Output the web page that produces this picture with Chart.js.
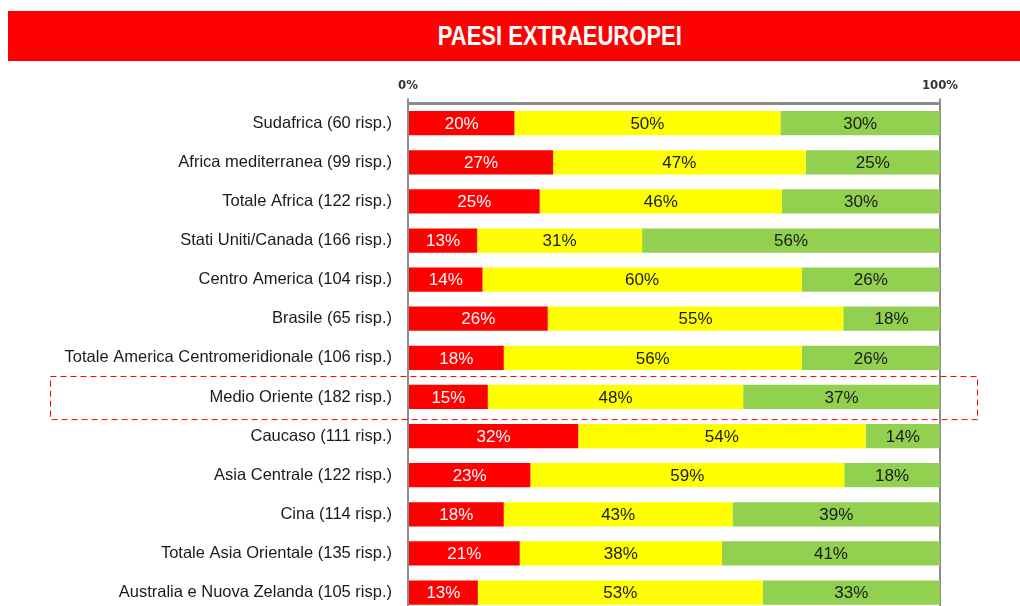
<!DOCTYPE html>
<html>
<head>
<meta charset="utf-8">
<script src="https://cdn.jsdelivr.net/npm/chart.js@4"></script>
<style>
  html, body { margin: 0; padding: 0; background: #fff; overflow: hidden; }
  #wrap { position: relative; width: 1020px; height: 606px; overflow: hidden; }
  #banner {
    position: absolute; left: 8px; top: 11px; width: 1104px; height: 50px;
    background: #ff0000; color: #fff; text-align: center;
    font: bold 27px "Liberation Sans", Arial, sans-serif;
    line-height: 50px; z-index: 2;
  }
  #banner span { display: inline-block; transform: scaleX(0.815); }
  #box { position: absolute; top: 0; left: 0; }
</style>
</head>
<body>
<div id="wrap">
  <div id="banner"><span>PAESI EXTRAEUROPEI</span></div>
  <div id="box"><canvas id="myBarChart" width="1020" height="630"></canvas></div>
</div>
<script>
// data
const labels = [
  "Sudafrica (60 risp.)",
  "Africa mediterranea (99 risp.)",
  "Totale Africa (122 risp.)",
  "Stati Uniti/Canada (166 risp.)",
  "Centro America (104 risp.)",
  "Brasile (65 risp.)",
  "Totale America Centromeridionale (106 risp.)",
  "Medio Oriente (182 risp.)",
  "Caucaso (111 risp.)",
  "Asia Centrale (122 risp.)",
  "Cina (114 risp.)",
  "Totale Asia Orientale (135 risp.)",
  "Australia e Nuova Zelanda (105 risp.)"
];
const redVals = [20, 27, 25, 13, 14, 26, 18, 15, 32, 23, 18, 21, 13];
const yellowVals = [50, 47, 46, 31, 60, 55, 56, 48, 54, 59, 43, 38, 53];
const greenVals = [30, 25, 30, 56, 26, 18, 26, 37, 14, 18, 39, 41, 33];
const axisTicks = [0, 100];
const highlighted = "Medio Oriente (182 risp.)";

// 100% stacked: every row is scaled to its own total (rounded labels don't always add to 100)
const rowTotals = labels.map((_, i) => redVals[i] + yellowVals[i] + greenVals[i]);
const share = arr => arr.map((v, i) => v / rowTotals[i] * 100);

const narrow = '"DejaVu Sans Condensed", sans-serif';

// labels inside the bars
const barLabels = {
  id: "barLabels",
  afterDatasetsDraw(chart) {
    const ctx = chart.ctx;
    ctx.save();
    ctx.font = "17px 'Liberation Sans', Arial, sans-serif";
    ctx.textAlign = "center";
    ctx.textBaseline = "middle";
    chart.data.datasets.forEach((ds, i) => {
      const meta = chart.getDatasetMeta(i);
      meta.data.forEach((bar, j) => {
        const left = Math.min(bar.x, bar.base);
        const right = Math.max(bar.x, bar.base);
        ctx.fillStyle = ds.labelColor;
        ctx.fillText(ds.raw[j] + "%", (left + right) / 2, bar.y + 1);
      });
    });
    ctx.restore();
  }
};

// dashed frame around one row
const rowFrame = {
  id: "rowFrame",
  afterDraw(chart) {
    const y = chart.scales.y;
    const idx = labels.indexOf(highlighted);
    const c = y.getPixelForValue(idx);
    const half = (y.getPixelForValue(1) - y.getPixelForValue(0)) / 2 + 2;
    const ctx = chart.ctx;
    ctx.save();
    ctx.strokeStyle = "#ff0000";
    ctx.lineWidth = 1;
    ctx.setLineDash([6, 4]);
    ctx.strokeRect(50.5, Math.round(c - half + 1) + 0.5, chart.chartArea.right + 37 - 50, half * 2);
    ctx.restore();
  }
};

const data = {
  labels: labels,
  datasets: [
    { label: "red", data: share(redVals), raw: redVals, backgroundColor: "#ff0000", labelColor: "#ffffff" },
    { label: "yellow", data: share(yellowVals), raw: yellowVals, backgroundColor: "#ffff00", labelColor: "#1a1a1a" },
    { label: "green", data: share(greenVals), raw: greenVals, backgroundColor: "#92d050", labelColor: "#1a1a1a" }
  ]
};

const config = {
  type: "bar",
  data: data,
  options: {
    indexAxis: "y",
    responsive: false,
    animation: false,
    maintainAspectRatio: false,
    barPercentage: 0.62,
    categoryPercentage: 1,
    layout: { padding: { top: 73, right: 80, bottom: 3, left: 0 } },
    plugins: {
      legend: { display: false },
      tooltip: { enabled: false }
    },
    scales: {
      x: {
        position: "top",
        stacked: true,
        min: 0,
        max: 100,
        afterBuildTicks: s => { s.ticks = axisTicks.map(v => ({ value: v })); },
        ticks: {
          callback: v => v + "%",
          color: "#333",
          font: { family: narrow, size: 13, weight: "bold" },
          padding: 5,
          maxRotation: 0
        },
        grid: { color: "#8c8c8c", lineWidth: 2, tickLength: 5, tickColor: "#8c8c8c" },
        border: { color: "#8c8c8c", width: 3 }
      },
      y: {
        stacked: true,
        afterFit: s => { s.width = 408; },
        ticks: {
          color: "#1a1a1a",
          font: { family: "'Liberation Sans', Arial, sans-serif", size: 16.5 },
          padding: 8
        },
        grid: { display: false },
        border: { display: false }
      }
    }
  },
  plugins: [barLabels, rowFrame]
};

const ctx = document.getElementById("myBarChart").getContext("2d");
const myBarChart = new Chart(ctx, config);
</script>
</body>
</html>
